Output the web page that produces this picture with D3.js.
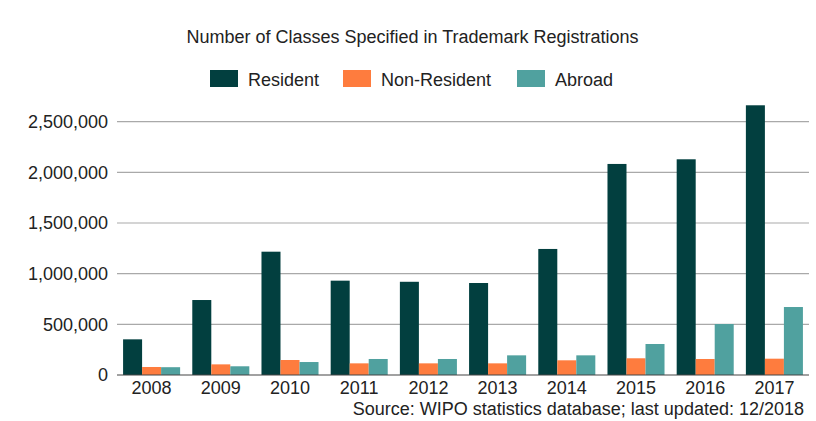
<!DOCTYPE html>
<html>
<head>
<meta charset="utf-8">
<script src="https://cdn.jsdelivr.net/npm/d3@7"></script>
<style>
  html, body { margin: 0; padding: 0; background: #ffffff; }
  svg { display: block; font-family: "Liberation Sans", Arial, sans-serif; }
</style>
</head>
<body>
<svg id="chart" width="816" height="421"></svg>
<script>
const years = ["2008","2009","2010","2011","2012","2013","2014","2015","2016","2017"];
const seriesNames = ["Resident","Non-Resident","Abroad"];
const resident    = [352000, 740000, 1217000, 931000, 920000, 908000, 1244000, 2083000, 2129000, 2662000];
const nonResident = [79000, 105000, 148000, 115000, 115000, 115000, 145000, 165000, 158000, 161000];
const abroad      = [77000, 86000, 128000, 158000, 158000, 194000, 194000, 306000, 503000, 671000];
const yTicks = [0, 500000, 1000000, 1500000, 2000000, 2500000];
const colors = ["#023f3f", "#fe7c3e", "#50a19f"];
const title = "Number of Classes Specified in Trademark Registrations";
const source = "Source: WIPO statistics database; last updated: 12/2018";

const seriesValues = [resident, nonResident, abroad];
const data = years.map((y, i) => ({ year: y, values: seriesNames.map((s, j) => ({ key: s, value: seriesValues[j][i] })) }));

const svg = d3.select("#chart");
const W = 816, H = 421;
const left = 117, right = 809, bottom = 375, topTick = 121.7;

const x0 = d3.scaleBand().domain(years).range([left, right]).padding(0);
const x1 = d3.scaleBand().domain(seriesNames).range([0, x0.bandwidth()]).paddingInner(0).paddingOuter(0.32);
const y = d3.scaleLinear().domain([0, 2500000]).range([bottom, topTick]);
const color = d3.scaleOrdinal().domain(seriesNames).range(colors);

// gridlines + y labels
const yAxis = d3.axisLeft(y).tickValues(yTicks).tickFormat(d3.format(",")).tickSize(0).tickPadding(9);
const gy = svg.append("g").attr("transform", `translate(${left},0)`).call(yAxis);
gy.select(".domain").remove();
gy.selectAll("text").attr("font-size", 18).attr("fill", "#222").attr("font-family", "Liberation Sans, Arial, sans-serif");

svg.append("g").selectAll("line").data(yTicks.filter(d => d > 0)).join("line")
  .attr("x1", left).attr("x2", right)
  .attr("y1", d => y(d)).attr("y2", d => y(d))
  .attr("stroke", "#a9a9a9").attr("stroke-width", 1.2);

// bars
svg.append("g").selectAll("g").data(data).join("g")
  .attr("transform", d => `translate(${x0(d.year)},0)`)
  .selectAll("rect").data(d => d.values).join("rect")
  .attr("x", d => x1(d.key))
  .attr("width", x1.bandwidth())
  .attr("y", d => y(d.value))
  .attr("height", d => y(0) - y(d.value))
  .attr("fill", d => color(d.key));

// baseline
svg.append("line").attr("x1", left).attr("x2", right).attr("y1", y(0)).attr("y2", y(0))
  .attr("stroke", "#444").attr("stroke-width", 1.2);

// x axis labels
const xAxis = d3.axisBottom(x0).tickSize(0).tickPadding(6);
const gx = svg.append("g").attr("transform", `translate(0,${bottom})`).call(xAxis);
gx.select(".domain").remove();
gx.selectAll("text").attr("font-size", 18).attr("fill", "#222").attr("font-family", "Liberation Sans, Arial, sans-serif");

// title
svg.append("text").attr("x", 412.5).attr("y", 43).attr("text-anchor", "middle")
  .attr("font-size", 18).attr("fill", "#222").text(title);

// legend
const legendX = [210, 343, 517];
const lg = svg.append("g").selectAll("g").data(seriesNames).join("g")
  .attr("transform", (d, i) => `translate(${legendX[i]},70)`);
lg.append("rect").attr("width", 28).attr("height", 17).attr("fill", d => color(d));
lg.append("text").attr("x", 38).attr("y", 15.5).attr("font-size", 18).attr("fill", "#222").text(d => d);

// source
svg.append("text").attr("x", 804).attr("y", 415).attr("text-anchor", "end")
  .attr("font-size", 18).attr("fill", "#222").text(source);
</script>
</body>
</html>
